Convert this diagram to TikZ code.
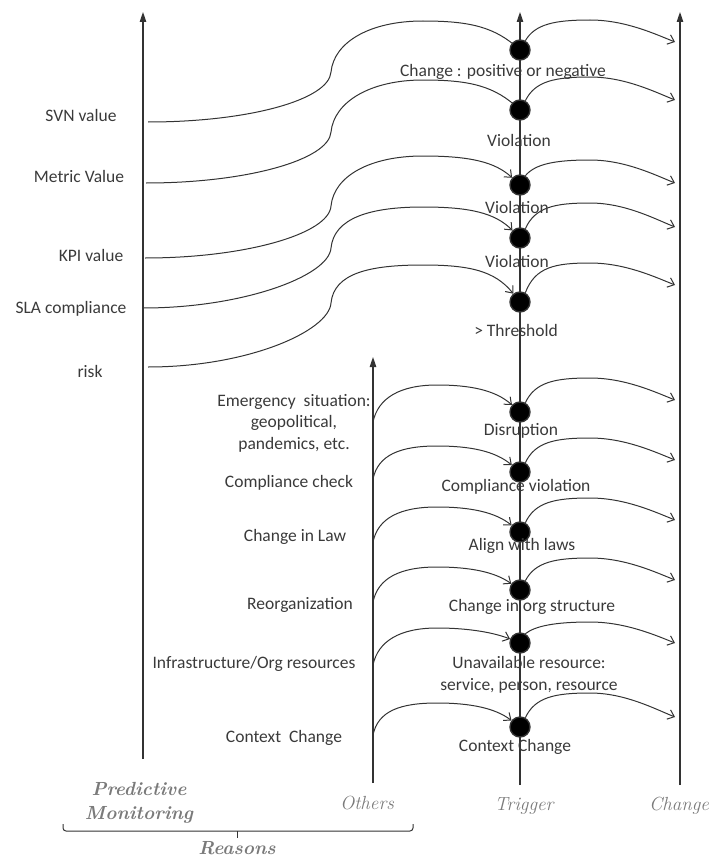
\documentclass[tikz,border=0pt]{standalone}
\usepackage{fontspec}
\newfontfamily\calibfont{Carlito}
\usetikzlibrary{arrows.meta}
\pgfdeclarelayer{bg}
\pgfsetlayers{bg,main}

\definecolor{ink}{HTML}{333333}
\definecolor{txt}{HTML}{3A3A3A}
\definecolor{capgray}{HTML}{7A7A7A}

\tikzset{
  axisline/.style={draw=ink, line width=1.1pt, -{Triangle[length=10pt,width=6.5pt]}},
  flow/.style={draw=ink, line width=1pt, -{Straight Barb[length=6pt,width=10pt]}},
  dotnode/.style={circle, fill=black, draw=ink, line width=1.4pt, minimum size=20pt, inner sep=0pt},
  lab/.style={font=\calibfont\fontsize{17.5}{21.5}\selectfont, text=txt, inner sep=0pt, align=center},
  axlab/.style={font=\fontsize{19}{24}\selectfont\itshape, text=capgray, inner sep=0pt, align=center},
  axlabb/.style={axlab, font=\fontsize{19}{24}\selectfont\bfseries\itshape},
  bracket/.style={draw=ink, line width=1pt, rounded corners=3pt},
}

\begin{document}
\begin{tikzpicture}[x=1pt, y=-1pt]
\useasboundingbox (0,0) rectangle (712,859);

% axis end points
\coordinate (pmB) at (143,759);  \coordinate (pmT) at (143,12);
\coordinate (otB) at (373,783);  \coordinate (otT) at (373,357);
\coordinate (trB) at (520,785);  \coordinate (trT) at (520,12);
\coordinate (chB) at (680,785);  \coordinate (chT) at (680,12);

% trigger points
\foreach \i/\y in {1/50,2/110,3/185,4/238,5/302,6/412,7/472,8/532,9/590,10/643,11/727}
  \node[dotnode] (d\i) at (520,\y) {};

% trigger labels
\node[lab] (t1)  at (503,72)  {Change : positive or negative};
\node[lab] (t2)  at (519,140) {Violation};
\node[lab] (t3)  at (517,207) {Violation};
\node[lab] (t4)  at (517,261) {Violation};
\node[lab] (t5)  at (516,330) {> Threshold};
\node[lab] (t6)  at (521,431) {Disruption};
\node[lab] (t7)  at (516,487) {Compliance violation};
\node[lab] (t8)  at (522,546) {Align with laws};
\node[lab] (t9)  at (532,607) {Change in org structure};
\node[lab] (t10) at (529,675) {Unavailable resource:\\service, person, resource};
\node[lab] (t11) at (515,747) {Context Change};

% predictive monitoring reasons
\node[lab] (r1) at (81,115)  {SVN value};
\node[lab] (r2) at (79,176)  {Metric Value};
\node[lab] (r3) at (91,255)  {KPI value};
\node[lab] (r4) at (71,309)  {SLA compliance};
\node[lab] (r5) at (90,371)  {risk};

% other reasons
\node[lab] (r6)  at (294,423) {Emergency~ situation:\\geopolitical,\\pandemics, etc.};
\node[lab] (r7)  at (289,483) {Compliance check};
\node[lab] (r8)  at (295,537) {Change in Law};
\node[lab] (r9)  at (300,605) {Reorganization};
\node[lab] (r10) at (254,664) {Infrastructure/Org resources};
\node[lab] (r11) at (284,738) {Context~ Change};

% axis captions
\node[axlabb] (capPM) at (139,803) {Predictive\\Monitoring};
\node[axlab]  (capOT) at (367,803) {Others};
\node[axlab]  (capTR) at (524,806) {Trigger};
\node[axlab]  (capCH) at (679,806) {Change};
\node[axlabb] (capRS) at (237,848) {Reasons};

% bracket grouping the reasons
\coordinate (brL) at (63,824);
\coordinate (brR) at (413,824);
\coordinate (brM) at (237,838);
\draw[bracket] (brL) -- (63,831) -- (413,831) -- (brR);
\draw[bracket] (237,831) -- (brM);

\begin{pgfonlayer}{bg}
  % axes
  \draw[axisline] (pmB) -- (pmT);
  \draw[axisline] (otB) -- (otT);
  \draw[axisline] (trB) -- (trT);
  \draw[axisline] (chB) -- (chT);

  % predictive monitoring curves into the triggers
  \foreach \i/\xa/\ya in {1/148/122, 2/146/183, 3/145/258, 4/143/308, 5/148/367} {
    \coordinate (p\i) at (\xa,\ya);
  }
  \foreach \i/\ys/\yp/\tgt in {1/72/21/d1.center, 2/132/80/d2.center, 3/206/156/d3, 4/248/207/d4, 5/303/265/d5}
    \draw[flow] (p\i) .. controls +(100,0) and (329,\ys+28) .. (331,\ys)
                     .. controls (334,\ys-30) and (370,\yp) .. (423,\yp)
                     .. controls (470,\yp) and (495,\yp+6) .. (\tgt);

  % other reasons into the triggers
  \foreach \i/\ys/\yp in {6/422/385, 7/479/446, 8/542/507, 9/602/567, 10/665/628, 11/735/703} {
    \coordinate (o\i) at (373,\ys);
    \draw[flow] (o\i) .. controls (378,\ys-24) and (400,\yp) .. (437,\yp)
                     .. controls (470,\yp) and (495,\yp+5) .. (d\i);
  }

  % triggers into the change axis
  \foreach \i/\yp/\yt in {1/20/42, 2/77/100, 3/160/183, 4/203/227, 5/263/285, 6/378/400, 7/438/460, 8/498/520, 9/558/580, 10/622/643, 11/693/717} {
    \coordinate (c\i) at (675,\yt);
    \draw[flow] (d\i.60) .. controls (535,\yp+4) and (555,\yp) .. (590,\yp)
                        .. controls (625,\yp) and (655,\yt-8) .. (c\i);
  }
\end{pgfonlayer}
\end{tikzpicture}
\end{document}
